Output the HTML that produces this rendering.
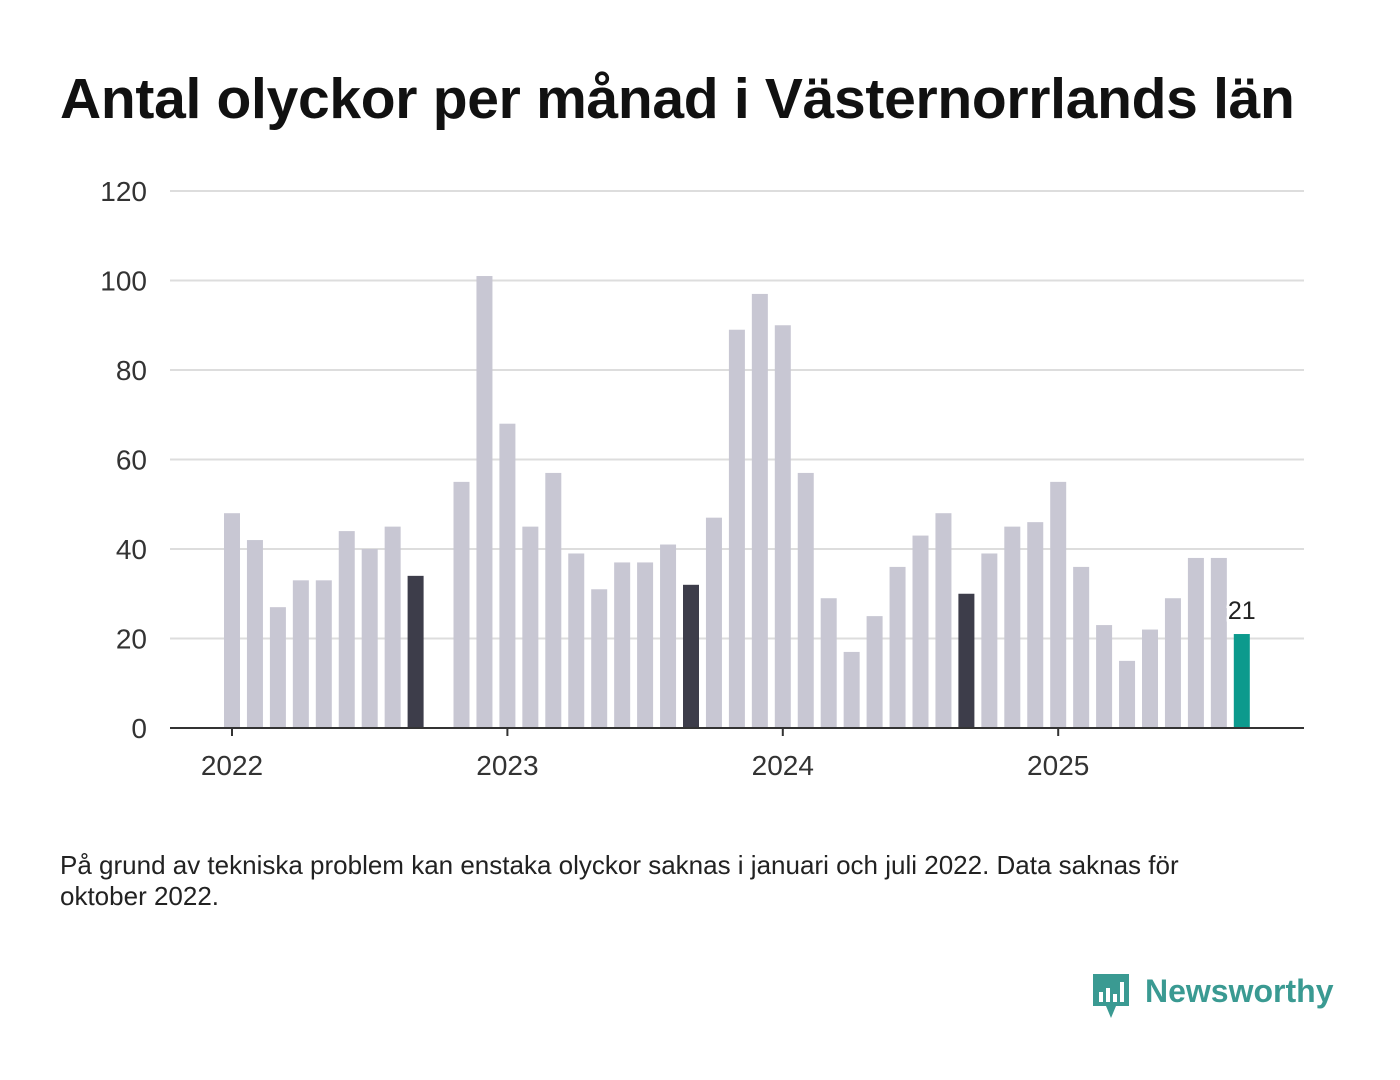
<!DOCTYPE html>
<html><head><meta charset="utf-8"><style>
body{margin:0;background:#fff;width:1400px;height:1080px;overflow:hidden;font-family:"Liberation Sans",sans-serif}
h1{position:absolute;left:60px;top:66px;margin:0;font-size:57px;font-weight:bold;color:#111;letter-spacing:-0.3px;white-space:nowrap}
.note{position:absolute;left:60px;top:850px;font-size:26px;line-height:31px;color:#222;width:1190px}
</style></head><body>
<h1>Antal olyckor per månad i Västernorrlands län</h1>
<svg id="chart" width="1400" height="820" style="position:absolute;left:0;top:0"></svg>
<div class="note">På grund av tekniska problem kan enstaka olyckor saknas i januari och juli 2022. Data saknas för oktober 2022.</div>
<div style="position:absolute;left:1090px;top:972px;height:50px">
<svg width="42" height="50" style="position:absolute;left:0;top:0"><path d="M3 2h36v32H26l-5 12-5-12H3z" fill="#3a9a92"/><rect x="9" y="20" width="4" height="10" fill="#fff"/><rect x="16" y="16" width="4" height="14" fill="#fff"/><rect x="23" y="22" width="4" height="8" fill="#fff"/><rect x="30" y="10" width="4" height="20" fill="#fff"/></svg>
<span style="position:absolute;left:55px;top:1px;font-size:32px;font-weight:bold;color:#3a9a92;white-space:nowrap">Newsworthy</span></div>
<script>
const months=["2022-01","2022-02","2022-03","2022-04","2022-05","2022-06","2022-07","2022-08","2022-09","2022-10","2022-11","2022-12","2023-01","2023-02","2023-03","2023-04","2023-05","2023-06","2023-07","2023-08","2023-09","2023-10","2023-11","2023-12","2024-01","2024-02","2024-03","2024-04","2024-05","2024-06","2024-07","2024-08","2024-09","2024-10","2024-11","2024-12","2025-01","2025-02","2025-03","2025-04","2025-05","2025-06","2025-07","2025-08","2025-09"];
const values=[48,42,27,33,33,44,40,45,34,null,55,101,68,45,57,39,31,37,37,41,32,47,89,97,90,57,29,17,25,36,43,48,30,39,45,46,55,36,23,15,22,29,38,38,21];
const yTicks=[0,20,40,60,80,100,120];
const xTicks=["2022","2023","2024","2025"];
const svg=document.getElementById('chart');const NS='http://www.w3.org/2000/svg';
const x0=170,x1=1304,yb=728,yt=191,step=22.95,first=232;
const y=v=>yb-(v/120)*(yb-yt);
const x=i=>first+i*step;
function mk(t,a){const e=document.createElementNS(NS,t);for(const k in a)e.setAttribute(k,a[k]);svg.appendChild(e);return e;}
yTicks.forEach(v=>{
 if(v>0){const g=mk('line',{x1:x0,x2:x1,y1:y(v),y2:y(v),stroke:'#ddd','stroke-width':2});
 
 }
 const t=mk('text',{x:147,y:y(v)+10,'text-anchor':'end','font-size':28,fill:'#333'});t.textContent=v;
 
 
});
values.forEach((v,i)=>{if(v==null)return;
 const last=i===values.length-1;const dark=months[i].endsWith('-09')&&!last;
 const r=mk('rect',{x:x(i)-8,y:y(v),width:16,height:yb-y(v),fill:last?'#0c9a8d':dark?'#3d3d4a':'#c8c7d3'});
 
 
 if(last){const t=mk('text',{x:x(i),y:y(v)-15,'text-anchor':'middle','font-size':25,fill:'#222',stroke:'#fff','stroke-width':5,'paint-order':'stroke'});t.textContent=v;
 
 }
});
const ax=mk('line',{x1:x0,x2:x1,y1:yb,y2:yb,stroke:'#333','stroke-width':2});


xTicks.forEach(yr=>{const i=months.indexOf(yr+'-01');
 const tk=mk('line',{x1:x(i),x2:x(i),y1:yb,y2:yb+8,stroke:'#333','stroke-width':2});
 
 
 const t=mk('text',{x:x(i),y:775,'text-anchor':'middle','font-size':28,fill:'#333'});t.textContent=yr;
 
 
});
</script>
</body></html>
